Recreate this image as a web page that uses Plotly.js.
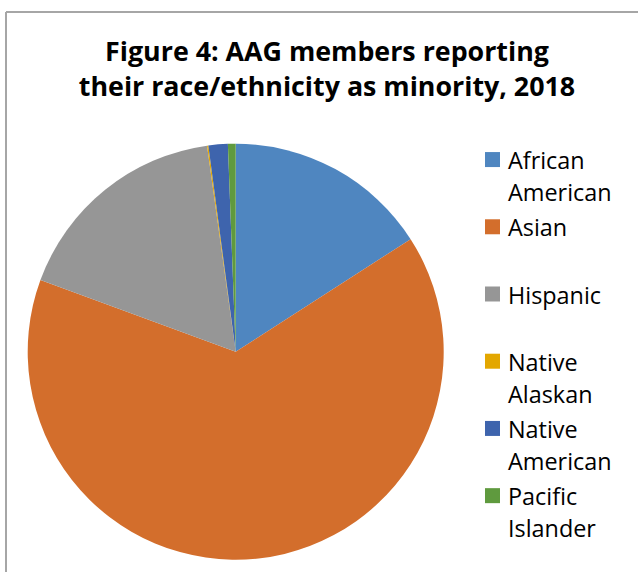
<!DOCTYPE html>
<html>
<head>
<meta charset="utf-8">
<script src="https://cdn.plot.ly/plotly-3.0.1.min.js"></script>
<style>
  html, body { margin: 0; padding: 0; background: #fff; }
  #chart { width: 638px; height: 572px; }
</style>
</head>
<body>
<div id="chart"></div>
<script>
// Data (percent of AAG members reporting minority race/ethnicity)
const categories = ["African American", "Asian", "Hispanic", "Native Alaskan", "Native American", "Pacific Islander"];
const legendLines = [["African", "American"], ["Asian", ""], ["Hispanic", ""], ["Native", "Alaskan"], ["Native", "American"], ["Pacific", "Islander"]];
const shares = [15.9, 64.7, 17.2, 0.1, 1.5, 0.6];
const colors = ["#4F86C0", "#D36E2C", "#969696", "#E3A700", "#3E64AD", "#5F9A3E"];

const labels = legendLines.map(l =>
  l.map(s => '<span style="font-size:23.4px">' + (s === "" ? "\u00a0" : s) + '</span>').join("<br>")
);

const W = 638, H = 572;
const cx = 235.7, cy = 351.7, r = 208;
const FONT = "'Open Sans', Lato, 'Liberation Sans', sans-serif";

const trace = {
  type: "pie",
  labels: labels,
  values: shares,
  customdata: categories,
  hovertemplate: "%{customdata}: %{value}%<extra></extra>",
  sort: false,
  direction: "clockwise",
  rotation: 0,
  textinfo: "none",
  marker: { colors: colors, line: { width: 0 } },
  domain: {
    x: [(cx - r) / W, (cx + r) / W],
    y: [1 - (cy + r) / H, 1 - (cy - r) / H]
  }
};

const layout = {
  width: W, height: H,
  margin: { l: 0, r: 0, t: 0, b: 0 },
  paper_bgcolor: "#ffffff",
  font: { family: FONT, color: "#000000" },
  title: {
    text: "<b>Figure 4: AAG members reporting<br>their race/ethnicity as minority, 2018</b>",
    font: { size: 26.8, family: FONT, color: "#000000" },
    x: 327 / W, xanchor: "center", xref: "paper",
    y: 1 - 61 / H, yanchor: "top", yref: "container"
  },
  showlegend: true,
  legend: {
    x: 468 / W, xanchor: "left",
    y: 1 - 137 / H, yanchor: "top",
    valign: "top",
    font: { size: 24.7, family: FONT, color: "#000000" },
    bgcolor: "rgba(0,0,0,0)"
  },
  shapes: [
    { type: "line", xref: "paper", yref: "paper", x0: 6 / W, x1: 6 / W, y0: 0, y1: 1 - 12 / H, line: { color: "#A6A6A6", width: 2 } },
    { type: "line", xref: "paper", yref: "paper", x0: 6 / W, x1: 1, y0: 1 - 12 / H, y1: 1 - 12 / H, line: { color: "#A6A6A6", width: 2 } }
  ]
};

function enlargeLegendSymbols() {
  document.querySelectorAll("#chart .legendpoints path").forEach(p => {
    p.setAttribute("d", "M12,7.5H-3V-7.5H12Z");
  });
}

const gd = document.getElementById("chart");
Plotly.newPlot(gd, [trace], layout, { displayModeBar: false, staticPlot: true }).then(() => {
  enlargeLegendSymbols();
  gd.on("plotly_afterplot", enlargeLegendSymbols);
});
</script>
</body>
</html>
